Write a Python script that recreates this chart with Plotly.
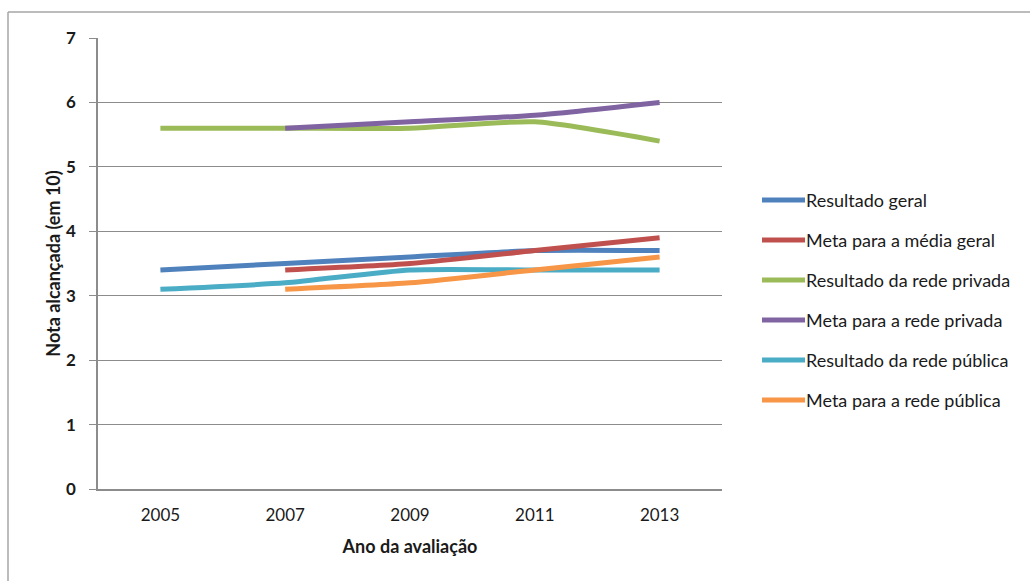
import plotly.graph_objects as go

# Exam years and score series (score out of 10)
anos = ["2005", "2007", "2009", "2011", "2013"]

resultado_geral = [3.4, 3.5, 3.6, 3.7, 3.7]
meta_media_geral = [None, 3.4, 3.5, 3.7, 3.9]
resultado_privada = [5.6, 5.6, 5.6, 5.7, 5.4]
meta_privada = [None, 5.6, 5.7, 5.8, 6.0]
resultado_publica = [3.1, 3.2, 3.4, 3.4, 3.4]
meta_publica = [None, 3.1, 3.2, 3.4, 3.6]

nomes = [
    "Resultado geral",
    "Meta para a média geral",
    "Resultado da rede privada",
    "Meta para a rede privada",
    "Resultado da rede pública",
    "Meta para a rede pública",
]
series = [resultado_geral, meta_media_geral, resultado_privada,
          meta_privada, resultado_publica, meta_publica]
cores = ["#4F81BD", "#C0504D", "#9BBB59", "#8064A2", "#4BACC6", "#F79646"]

FONT = "Lato, Liberation Sans, Arial, sans-serif"
TXT = "#1a1a1a"

fig = go.Figure()
for nome, valores, cor in zip(nomes, series, cores):
    fig.add_trace(go.Scatter(
        x=anos, y=valores, name=nome, mode="lines",
        line=dict(color=cor, width=5, shape="spline", smoothing=0.6),
        connectgaps=False, showlegend=False,
    ))

# Legend drawn to the right of the plot: short thick swatch plus label
W, H = 624, 451  # plot area size in px
def px_x(p):
    return (p - 98) / W
def px_y(p):
    return (489 - p) / H

leg_y = [200, 240, 280, 320, 360, 400]
shapes = []
annotations = []
for nome, cor, yy in zip(nomes, cores, leg_y):
    shapes.append(dict(type="line", xref="paper", yref="paper",
                       x0=px_x(762), x1=px_x(805), y0=px_y(yy), y1=px_y(yy),
                       line=dict(color=cor, width=5)))
    annotations.append(dict(xref="paper", yref="paper", x=px_x(804), y=px_y(yy),
                            text=nome, showarrow=False, xanchor="left",
                            yanchor="middle",
                            font=dict(family=FONT, size=18, color=TXT)))

# Outer chart frame: left and top edges (the rest runs off the page)
frame = dict(color="#A6A6A6", width=1.5)
shapes.append(dict(type="line", xref="paper", yref="paper",
                   x0=px_x(8), x1=px_x(8), y0=px_y(581), y1=px_y(12),
                   line=frame, layer="below"))
shapes.append(dict(type="line", xref="paper", yref="paper",
                   x0=px_x(8), x1=px_x(1030), y0=px_y(12), y1=px_y(12),
                   line=frame, layer="below"))

fig.update_layout(
    width=1030, height=581,
    margin=dict(l=98, r=308, t=38, b=92),
    paper_bgcolor="white", plot_bgcolor="white",
    shapes=shapes, annotations=annotations,
    font=dict(family=FONT, color=TXT),
    xaxis=dict(
        type="category", showgrid=False, showline=True, linecolor="#8C8C8C",
        linewidth=1.5, ticks="", tickfont=dict(size=17, color=TXT),
        ticklabelstandoff=10,
        title=dict(text="<b>Ano da avaliação</b>", font=dict(size=18, color=TXT),
                   standoff=16),
        range=[-0.5, 4.5], fixedrange=True,
    ),
    yaxis=dict(
        range=[0, 7], dtick=1, showgrid=True, gridcolor="#8C8C8C", gridwidth=1,
        showline=True, linecolor="#8C8C8C", linewidth=1.5,
        ticks="outside", ticklen=7, tickcolor="#8C8C8C",
        tickfont=dict(size=17, color=TXT),
        tickprefix="<b>", ticksuffix="</b>",
        ticklabelstandoff=10,
        zeroline=False,
        title=dict(text="<b>Nota alcançada (em 10)</b>", font=dict(size=18, color=TXT),
                   standoff=1),
    ),
)

fig.write_html("out.html")
